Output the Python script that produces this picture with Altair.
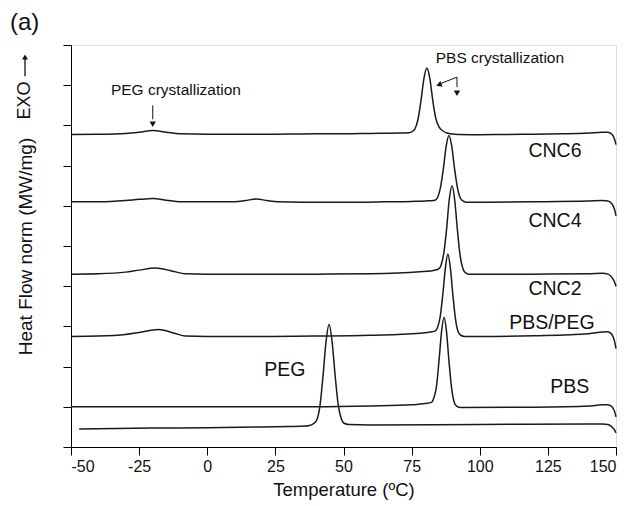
import altair as alt
import pandas as pd

# ---- data (temperature in ºC, heat flow in arbitrary stacked units) ----
cnc6_t = [-50, -40, -30, -25, -20, -15, -10, 0, 10, 20, 30, 40, 50, 60, 70, 74, 75.1, 76.2, 77.3, 78.4, 79.5, 80.6, 81.7, 82.8, 83.9, 85.0, 86.5, 88, 90, 92, 100, 110, 120, 130, 140, 145, 147, 148.5, 149.5, 150]
cnc6_h = [7.775, 7.78, 7.80, 7.83, 7.875, 7.83, 7.79, 7.78, 7.78, 7.78, 7.785, 7.79, 7.79, 7.80, 7.81, 7.82, 7.84, 7.91, 8.14, 8.6, 9.16, 9.425, 9.16, 8.6, 8.17, 7.97, 7.86, 7.81, 7.785, 7.775, 7.77, 7.775, 7.78, 7.79, 7.81, 7.83, 7.83, 7.78, 7.65, 7.52]

cnc4_t = [-50, -40, -30, -25, -20, -15, -10, 0, 10, 14, 18, 22, 26, 35, 50, 65, 75, 80, 83.6, 84.6, 85.6, 86.65, 87.7, 88.7, 89.7, 90.75, 91.8, 92.8, 93.8, 95, 100, 120, 140, 145, 147, 148.5, 149.5, 150]
cnc4_h = [6.1, 6.1, 6.13, 6.16, 6.18, 6.14, 6.1, 6.1, 6.1, 6.13, 6.17, 6.13, 6.1, 6.09, 6.09, 6.1, 6.11, 6.12, 6.14, 6.22, 6.46, 6.925, 7.49, 7.75, 7.49, 6.925, 6.45, 6.2, 6.12, 6.09, 6.09, 6.1, 6.12, 6.13, 6.12, 6.05, 5.9, 5.75]

cnc2_t = [-50, -40, -30, -25, -19, -13, -8, 0, 20, 40, 60, 70, 78, 82, 84.8, 85.8, 86.8, 87.8, 88.8, 89.8, 90.8, 91.8, 92.8, 93.8, 94.8, 96, 100, 120, 140, 145, 147, 148.5, 149.5, 150]
cnc2_h = [4.3, 4.31, 4.35, 4.40, 4.45, 4.38, 4.31, 4.3, 4.3, 4.3, 4.31, 4.33, 4.36, 4.38, 4.42, 4.52, 4.82, 5.4, 6.15, 6.5, 6.15, 5.4, 4.76, 4.44, 4.33, 4.3, 4.3, 4.3, 4.31, 4.32, 4.3, 4.22, 4.1, 4.0]

blend_t = [-50, -40, -30, -25, -18, -12, -8, 0, 20, 40, 60, 70, 78, 82, 83.7, 84.6, 85.5, 86.45, 87.4, 88.3, 89.2, 90.15, 91.1, 92.0, 93.0, 94.5, 100, 120, 140, 145, 147, 148.5, 149.5, 150]
blend_h = [2.75, 2.76, 2.80, 2.85, 2.925, 2.83, 2.76, 2.75, 2.75, 2.76, 2.78, 2.80, 2.83, 2.86, 2.89, 2.99, 3.25, 3.8, 4.46, 4.8, 4.46, 3.775, 3.18, 2.88, 2.78, 2.75, 2.75, 2.77, 2.82, 2.86, 2.87, 2.8, 2.62, 2.45]

pbs_t = [-50, 0, 40, 60, 75, 80, 82.3, 83.2, 84.1, 85.05, 86.0, 86.9, 87.8, 88.75, 89.7, 90.6, 91.6, 93, 120, 140, 145, 147, 148.5, 149.5, 150]
pbs_h = [1.0, 1.0, 1.0, 1.02, 1.05, 1.08, 1.11, 1.23, 1.5, 2.15, 2.88, 3.225, 2.87, 2.1, 1.45, 1.12, 1.01, 0.98, 0.99, 1.02, 1.05, 1.05, 1.0, 0.88, 0.75]

peg_t = [-47, -20, 0, 20, 30, 35.9, 37.5, 39.2, 40.3, 41.4, 42.5, 43.6, 44.7, 45.8, 46.9, 48.0, 49.1, 50.2, 52, 60, 100, 140, 145, 147, 148.5, 149.5, 150]
peg_h = [0.45, 0.47, 0.48, 0.5, 0.51, 0.52, 0.535, 0.59, 0.69, 1.05, 1.78, 2.63, 3.05, 2.63, 1.8, 1.08, 0.72, 0.59, 0.56, 0.55, 0.56, 0.57, 0.57, 0.56, 0.5, 0.42, 0.35]

series_names = ["CNC6", "CNC4", "CNC2", "PBS/PEG", "PBS", "PEG"]
series_t = [cnc6_t, cnc4_t, cnc2_t, blend_t, pbs_t, peg_t]
series_h = [cnc6_h, cnc4_h, cnc2_h, blend_h, pbs_h, peg_h]

label_text = ["CNC6", "CNC4", "CNC2", "PBS/PEG", "PBS", "PEG"]
label_t = [127.6, 127.6, 127.6, 126.5, 133.0, 28.5]
label_h = [7.375, 5.625, 3.925, 3.075, 1.5, 1.925]

x_ticks = [-50 + 12.5 * i for i in range(17)]
y_ticks = [0.5 * i for i in range(21)]

FONT = "Liberation Sans"

rows = []
for name, ts, hs in zip(series_names, series_t, series_h):
    for t, h in zip(ts, hs):
        rows.append({"sample": name, "T": t, "H": h})
df = pd.DataFrame(rows)

xs = alt.Scale(domain=[-50, 150], nice=False, zero=False)
ys = alt.Scale(domain=[0, 10], nice=False, zero=False)

curves = alt.Chart(df).mark_line(color="#1a1a1a", strokeWidth=1.5, interpolate="monotone").encode(
    x=alt.X("T:Q", scale=xs, title="Temperature (ºC)",
            axis=alt.Axis(values=x_ticks,
                          labelExpr="datum.value % 25 === 0 ? '' + datum.value : ''",
                          tickSize=alt.condition("datum.value % 25 === 0", alt.value(8), alt.value(4)),
                          grid=False, domainColor="#000", tickColor="#000",
                          labelFont=FONT, labelFontSize=16, labelColor="#111", labelPadding=3,
                          titleFont=FONT, titleFontSize=18.5, titleFontWeight="normal", titleColor="#111",
                          titlePadding=6)),
    y=alt.Y("H:Q", scale=ys, title="Heat Flow norm (MW/mg)",
            axis=alt.Axis(values=y_ticks, labels=False,
                          tickSize=alt.condition("datum.value % 1 === 0", alt.value(8), alt.value(4)),
                          grid=False, domainColor="#000", tickColor="#000",
                          titleFont=FONT, titleFontSize=19, titleFontWeight="normal", titleColor="#111",
                          titlePadding=27)),
    detail="sample:N",
)

labels_df = pd.DataFrame({"text": label_text, "T": label_t, "H": label_h})
labels = alt.Chart(labels_df).mark_text(font=FONT, fontSize=19.5, color="#111").encode(
    x=alt.X("T:Q", scale=xs), y=alt.Y("H:Q", scale=ys), text="text:N")

ann_df = pd.DataFrame({"text": ["PEG crystallization", "PBS crystallization"],
                       "T": [-11.5, 107.4], "H": [8.875, 9.675]})
ann = alt.Chart(ann_df).mark_text(font=FONT, fontSize=15.5, color="#111").encode(
    x=alt.X("T:Q", scale=xs), y=alt.Y("H:Q", scale=ys), text="text:N")

rule_df = pd.DataFrame({"T": [-20.0, 91.65, 91.65], "T2": [-20.0, 85.6, 91.65],
                        "H": [8.5, 9.2, 9.2], "H2": [8.15, 9.04, 8.95]})
arrows = alt.Chart(rule_df).mark_rule(color="#111", strokeWidth=1).encode(
    x=alt.X("T:Q", scale=xs), x2="T2:Q", y=alt.Y("H:Q", scale=ys), y2="H2:Q")

head_df = pd.DataFrame({"T": [-20.0, 91.65, 85.0], "H": [8.03, 8.8, 9.01], "ang": [180, 180, 250]})
heads = alt.Chart(head_df).mark_point(shape="triangle-up", filled=True, color="#111", size=40, opacity=1).encode(
    x=alt.X("T:Q", scale=xs), y=alt.Y("H:Q", scale=ys), angle=alt.Angle("ang:Q", scale=None))

exo = alt.Chart(pd.DataFrame({"text": ["EXO"], "H": [8.62]})).mark_text(
    font=FONT, fontSize=18, color="#111", angle=270).encode(
    x=alt.value(-46), y=alt.Y("H:Q", scale=ys), text="text:N")

exo_line = alt.Chart(pd.DataFrame({"H": [9.22], "H2": [9.65]})).mark_rule(color="#111", strokeWidth=1.3).encode(
    x=alt.value(-46), y=alt.Y("H:Q", scale=ys), y2="H2:Q")

exo_head = alt.Chart(pd.DataFrame({"H": [9.7]})).mark_point(
    shape="triangle-up", filled=True, color="#111", size=35, opacity=1).encode(
    x=alt.value(-46), y=alt.Y("H:Q", scale=ys))

chart = alt.layer(curves, labels, ann, arrows, heads, exo, exo_line, exo_head).properties(
    width=545, height=402,
    autosize=alt.AutoSizeParams(type="none"),
    padding={"left": 63, "top": 37, "right": 7, "bottom": 58},
    title=alt.TitleParams("(a)", anchor="start", frame="bounds", font=FONT, fontSize=24,
                          fontWeight="normal", color="#111", offset=10, dx=-6),
).configure_view(stroke="#c0c0c0", strokeWidth=1).configure(background="white")

chart.save("out.html", embed_options={"renderer": "svg", "actions": False})
